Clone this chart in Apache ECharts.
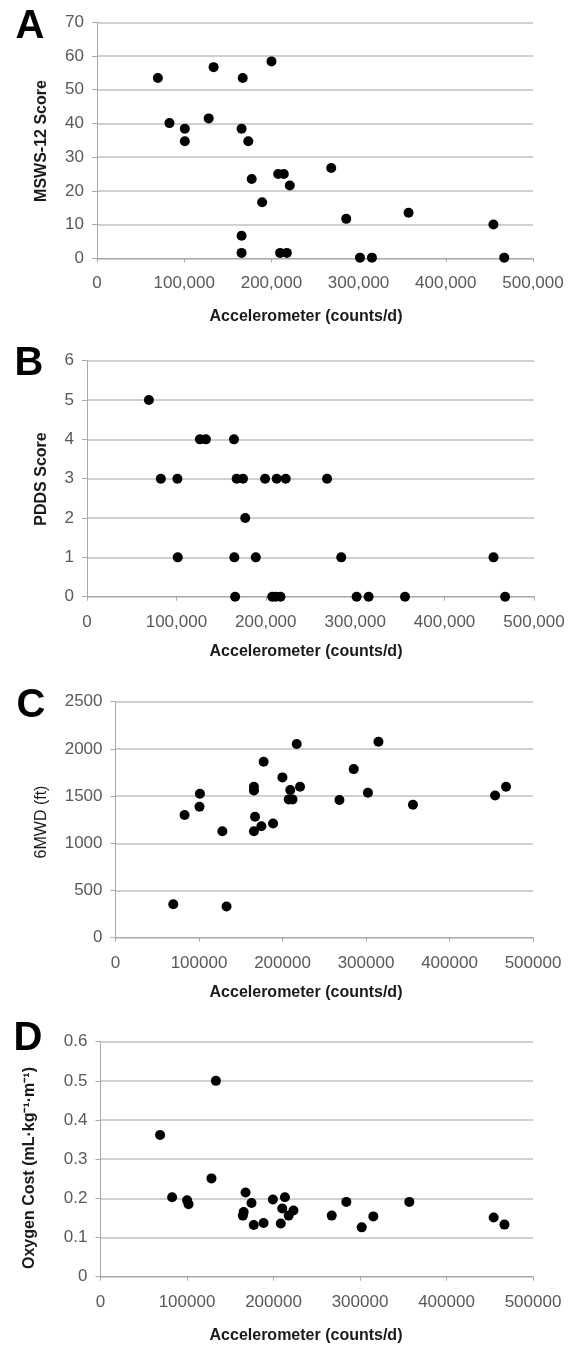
<!DOCTYPE html>
<html>
<head>
<meta charset="utf-8">
<script src="https://cdn.jsdelivr.net/npm/echarts@6/dist/echarts.min.js"></script>
<style>
html,body{margin:0;padding:0;background:#fff;}
#chart{width:587px;height:1349px;}
</style>
</head>
<body>
<div id="chart"></div>
<script>
// Panel A: MSWS-12 score vs accelerometer counts/d
var aX = [69800, 83100, 100700, 100700, 128100, 133700, 167100, 165800, 173500, 200100, 177400, 207800, 214200, 221100, 189400, 268600, 285800, 357300, 454600, 165800, 165800, 210000, 217700, 301600, 315300, 467000];
var aY = [53.5, 40.1, 38.4, 34.7, 41.5, 56.7, 53.5, 38.4, 34.7, 58.4, 23.5, 25.0, 25.0, 21.6, 16.6, 26.8, 11.7, 13.5, 10.0, 6.7, 1.6, 1.6, 1.6, 0.2, 0.2, 0.2];
// Panel B: PDDS score
var bX = [69200, 126300, 133000, 164400, 82600, 101100, 167400, 174500, 199200, 212200, 222300, 268500, 177000, 101500, 164800, 188800, 284400, 454700, 165700, 207200, 211000, 216400, 301600, 315000, 355700, 467700];
var bY = [5, 4, 4, 4, 3, 3, 3, 3, 3, 3, 3, 3, 2, 1, 1, 1, 1, 1, 0, 0, 0, 0, 0, 0, 0, 0];
// Panel C: 6MWD (ft)
var cX = [217000, 314900, 177400, 199900, 285300, 101100, 100600, 165800, 165800, 209300, 221000, 207500, 212000, 268200, 302300, 356200, 454600, 467700, 82700, 167100, 188700, 174700, 128000, 165800, 69200, 133000];
var cY = [2051, 2076, 1864, 1698, 1786, 1525, 1387, 1599, 1560, 1564, 1599, 1465, 1465, 1458, 1535, 1408, 1507, 1599, 1299, 1281, 1210, 1181, 1128, 1128, 355, 330];
// Panel D: Oxygen cost
var dX = [133400, 68900, 128300, 82800, 100100, 101800, 167700, 174600, 165500, 164600, 177200, 188500, 199300, 213200, 210100, 223100, 217500, 208400, 267300, 284200, 302000, 315400, 357000, 454500, 467000];
var dY = [0.5, 0.362, 0.251, 0.203, 0.195, 0.185, 0.215, 0.188, 0.165, 0.156, 0.132, 0.137, 0.197, 0.203, 0.174, 0.169, 0.156, 0.136, 0.156, 0.191, 0.126, 0.154, 0.191, 0.151, 0.133];

var panelLetters = ['A', 'B', 'C', 'D'];
var yTitles = ['MSWS-12 Score', 'PDDS Score', '6MWD (ft)', 'Oxygen Cost (mL\u00b7kg\u207b\u00b9\u00b7m\u207b\u00b9)'];
var xTitle = 'Accelerometer (counts/d)';
var yMax = [70, 6, 2500, 0.6];
var yInterval = [10, 1, 500, 0.1];

var FONT = '"Liberation Sans", Arial, Helvetica, sans-serif';
var grids = [
  {left: 97, top: 22.3, width: 436, height: 236},
  {left: 87, top: 360.7, width: 447, height: 236},
  {left: 115.5, top: 701.7, width: 417.5, height: 236},
  {left: 100.5, top: 1041.7, width: 432.5, height: 235}
];
var commaFmt = function (v) { return Number(v).toLocaleString('en-US'); };
var plainFmt = function (v) { return String(v); };
var xFmt = [commaFmt, commaFmt, plainFmt, plainFmt];

var xAxes = [], yAxes = [], series = [];
var pairs = [[aX, aY], [bX, bY], [cX, cY], [dX, dY]];
for (var i = 0; i < 4; i++) {
  xAxes.push({
    type: 'value', gridIndex: i, min: 0, max: 500000, interval: 100000,
    axisLine: {show: true, lineStyle: {color: '#a9a9a9', width: 1}},
    axisTick: {show: true, length: 4, lineStyle: {color: '#a9a9a9'}},
    splitLine: {show: false},
    axisLabel: {color: '#595959', fontSize: 17, fontFamily: FONT, margin: 17, formatter: xFmt[i]}
  });
  yAxes.push({
    type: 'value', gridIndex: i, min: 0, max: yMax[i], interval: yInterval[i],
    axisLine: {show: true, lineStyle: {color: '#a9a9a9', width: 1}},
    axisTick: {show: true, length: 5, lineStyle: {color: '#a9a9a9'}},
    splitLine: {show: true, lineStyle: {color: '#c0c0c0', width: 1.5}},
    axisLabel: {color: '#595959', fontSize: 17, fontFamily: FONT, margin: 13, formatter: plainFmt}
  });
  var d = [];
  for (var k = 0; k < pairs[i][0].length; k++) d.push([pairs[i][0][k], pairs[i][1][k]]);
  series.push({
    type: 'scatter', xAxisIndex: i, yAxisIndex: i, data: d,
    symbol: 'circle', symbolSize: 10,
    itemStyle: {color: '#000000', opacity: 1},
    emphasis: {disabled: true}
  });
}

var letterPos = [[30, 27], [29, 364], [31, 706], [28, 1039]];
var yTitlePos = [[42, 141], [42, 479], [42, 822], [30, 1168]];
var yTitleBold = ['bold', 'bold', 'normal', 'bold'];
var xTitleY = [317, 652, 993, 1336];
var graphics = [];
for (var j = 0; j < 4; j++) {
  graphics.push({
    type: 'text', x: letterPos[j][0], y: letterPos[j][1],
    style: {text: panelLetters[j], font: 'bold 40px ' + FONT, fill: '#000', align: 'center', verticalAlign: 'middle'}
  });
  graphics.push({
    type: 'text', x: yTitlePos[j][0], y: yTitlePos[j][1], rotation: Math.PI / 2,
    style: {text: yTitles[j], font: yTitleBold[j] + ' 16px ' + FONT, fill: '#1a1a1a', align: 'center', verticalAlign: 'middle'}
  });
  graphics.push({
    type: 'text', x: 306, y: xTitleY[j],
    style: {text: xTitle, font: 'bold 16px ' + FONT, fill: '#1a1a1a', align: 'center', verticalAlign: 'middle'}
  });
}

var chart = echarts.init(document.getElementById('chart'), null, {renderer: 'canvas'});
chart.setOption({
  animation: false,
  backgroundColor: '#ffffff',
  grid: grids,
  xAxis: xAxes,
  yAxis: yAxes,
  series: series,
  graphic: graphics
});
</script>
</body>
</html>
